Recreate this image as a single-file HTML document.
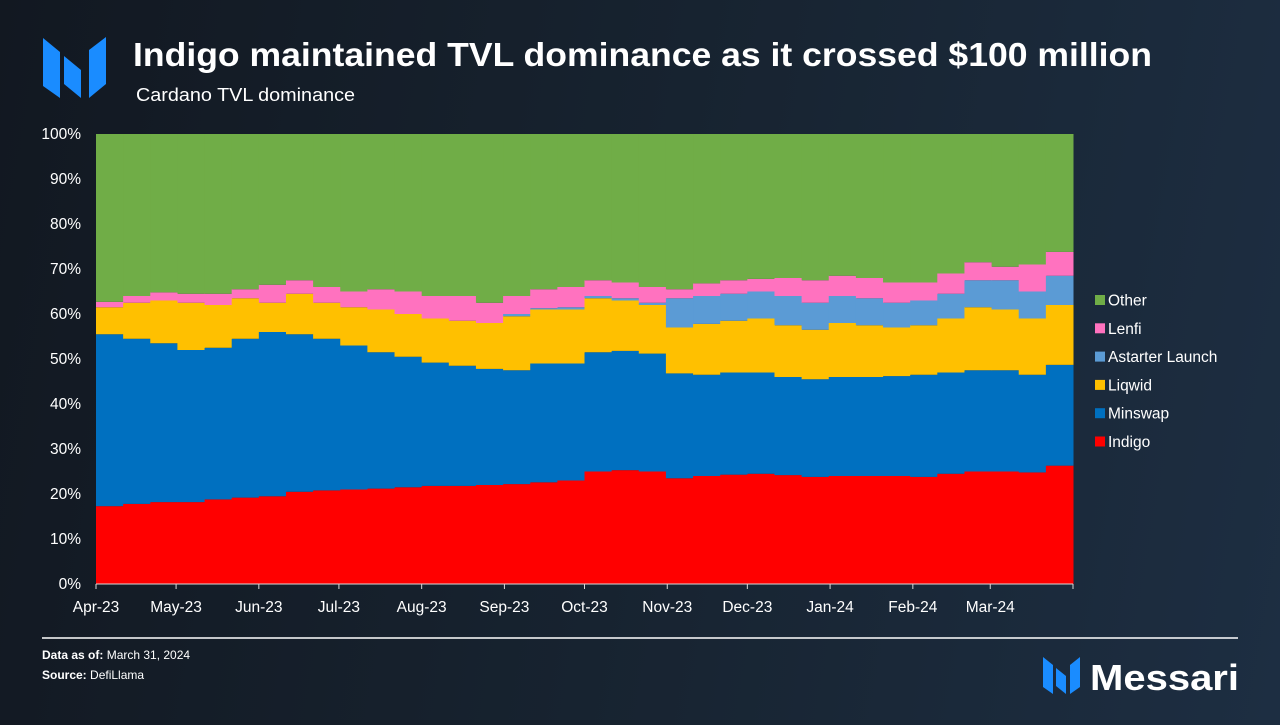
<!DOCTYPE html>
<html><head><meta charset="utf-8">
<style>
body{margin:0;width:1280px;height:720px;overflow:hidden;background:linear-gradient(100deg,#121821 0%,#172330 50%,#1d2e42 100%);font-family:"Liberation Sans",sans-serif;color:#fff}
</style></head><body>
<svg width="1280" height="720" xmlns="http://www.w3.org/2000/svg">
<g fill="#1a8cff">
<polygon points="43,38 60,52 60,98 43,86"/><polygon points="64,56 81,70 81,98 64,84"/><polygon points="89,50 106,37 106,84 89,98"/>
</g>
<text x="133" y="66" font-size="33" font-weight="bold" fill="#fff" textLength="1019" lengthAdjust="spacingAndGlyphs">Indigo maintained TVL dominance as it crossed $100 million</text>
<text x="136" y="101" font-size="18" fill="#fff" textLength="219" lengthAdjust="spacingAndGlyphs">Cardano TVL dominance</text>
<g id="plot"></g>
<g id="yax"></g>
<g id="xax"></g>
<g id="legend"></g>
<line x1="42" y1="638" x2="1238" y2="638" stroke="#fff" stroke-width="1.5"/>
<text x="42" y="659" font-size="12" fill="#fff"><tspan font-weight="bold">Data as of:</tspan> March 31, 2024</text>
<text x="42" y="679" font-size="12" fill="#fff"><tspan font-weight="bold">Source:</tspan> DefiLlama</text>
<g>
<g fill="#1a8cff"><polygon points="1043,657 1053,665 1053,694 1043,687"/><polygon points="1056,668 1066,676 1066,694 1056,686"/><polygon points="1070,665 1080,657 1080,687 1070,694"/></g>
<text x="1090" y="690" font-size="36" font-weight="bold" fill="#fff" textLength="149" lengthAdjust="spacingAndGlyphs">Messari</text>
</g>
</svg>
<script>
const months=["Apr-23","May-23","Jun-23","Jul-23","Aug-23","Sep-23","Oct-23","Nov-23","Dec-23","Jan-24","Feb-24","Mar-24"];
const yTicks=[0,10,20,30,40,50,60,70,80,90,100];
const seriesNames=["Indigo","Minswap","Liqwid","Astarter Launch","Lenfi","Other"];
const indigo=[17.3,17.8,18.2,18.2,18.8,19.2,19.5,20.5,20.8,21,21.2,21.5,21.8,21.8,22,22.2,22.6,23,25,25.3,25,23.5,24,24.3,24.5,24.2,23.8,24,24,24,23.8,24.5,25,25,24.8,26.3];
const minswap=[38.2,36.7,35.3,33.8,33.7,35.3,36.5,35,33.7,32,30.3,29,27.4,26.7,25.8,25.3,26.4,26,26.5,26.5,26.2,23.3,22.5,22.7,22.5,21.8,21.7,22,22,22.2,22.7,22.5,22.5,22.5,21.7,22.4];
const liqwid=[6,8,9.5,10.5,9.5,9,6.5,9,8,8.5,9.5,9.5,9.8,10,10.2,12,12,12,12,11.2,10.8,10.2,11.3,11.5,12,11.5,11,12,11.5,10.8,11,12,14,13.5,12.5,13.3];
const astarter=[0,0,0,0,0,0,0,0,0,0,0,0,0,0,0,0.5,0.3,0.5,0.5,0.5,0.5,6.5,6.2,6,6,6.5,6,6,6,5.5,5.5,5.5,6,6.5,6,6.5];
const lenfi=[1.2,1.5,1.8,2,2.5,2,4,3,3.5,3.5,4.5,5,5,5.5,4.5,4,4.2,4.5,3.5,3.5,3.5,2,2.8,3,2.8,4,5,4.5,4.5,4.5,4,4.5,4,3,6,5.3];
const colors=["#ff0000","#0070c0","#ffc000","#5b9bd5","#ff72bf","#70ad47"];
const NS="http://www.w3.org/2000/svg";
const X0=96,X1=1073,Y0=584,Y1=134;
const start=new Date(2023,3,1),end=new Date(2024,3,1);
const totalDays=(end-start)/864e5;
function xDate(d){return X0+((d-start)/864e5)/totalDays*(X1-X0);}
function xIdx(i){return X0+i/indigo.length*(X1-X0);}
function yv(v){return Y0-v/100*(Y0-Y1);}
function mk(tag,attrs,parent){const e=document.createElementNS(NS,tag);for(const k in attrs)e.setAttribute(k,attrs[k]);parent.appendChild(e);return e;}
const plot=document.getElementById('plot');
const series=[indigo,minswap,liqwid,astarter,lenfi];
for(let i=0;i<indigo.length;i++){
  let cum=0;
  const vals=series.map(s=>s[i]);
  const sum=vals.reduce((a,b)=>a+b,0);
  vals.push(100-sum);
  const x=xIdx(i),w=xIdx(i+1)-x+0.5;
  vals.forEach((v,k)=>{
    const r=mk('rect',{x:x,y:yv(cum+v),width:w,height:Math.max(0,yv(cum)-yv(cum+v)),fill:colors[k]},plot);
    
    
    cum+=v;
  });
}
const yax=document.getElementById('yax');
yTicks.forEach(t=>{
  const tx=mk('text',{x:81,y:yv(t)+5,'font-size':15.5,fill:'#fff','text-anchor':'end'},yax);
  tx.textContent=t+'%';
  
  
});
const xax=document.getElementById('xax');
const al=mk('line',{x1:X0,y1:Y0,x2:X1,y2:Y0,stroke:'#d9d9d9','stroke-width':1},xax);


months.forEach((m,i)=>{
  const d=new Date(2023,3+i,1);
  const x=xDate(d);
  const tk=mk('line',{x1:x,y1:Y0,x2:x,y2:Y0+5,stroke:'#d9d9d9'},xax);
  
  
  const tx=mk('text',{x:x,y:612,'font-size':15.5,fill:'#fff','text-anchor':'middle'},xax);
  tx.textContent=m;
  
  
});
mk('line',{x1:X1,y1:Y0,x2:X1,y2:Y0+5,stroke:'#d9d9d9'},xax);
const lg=document.getElementById('legend');
for(let k=5;k>=0;k--){
  const y=300+(5-k)*28.3;
  const g=mk('g',{},lg);
  
  
  mk('rect',{x:1095,y:y-5,width:10,height:10,fill:colors[k]},g);
  const t=mk('text',{x:1108,y:y+5.5,'font-size':15.5,fill:'#fff'},g);
  t.textContent=seriesNames[k];
}
</script>
</body></html>
